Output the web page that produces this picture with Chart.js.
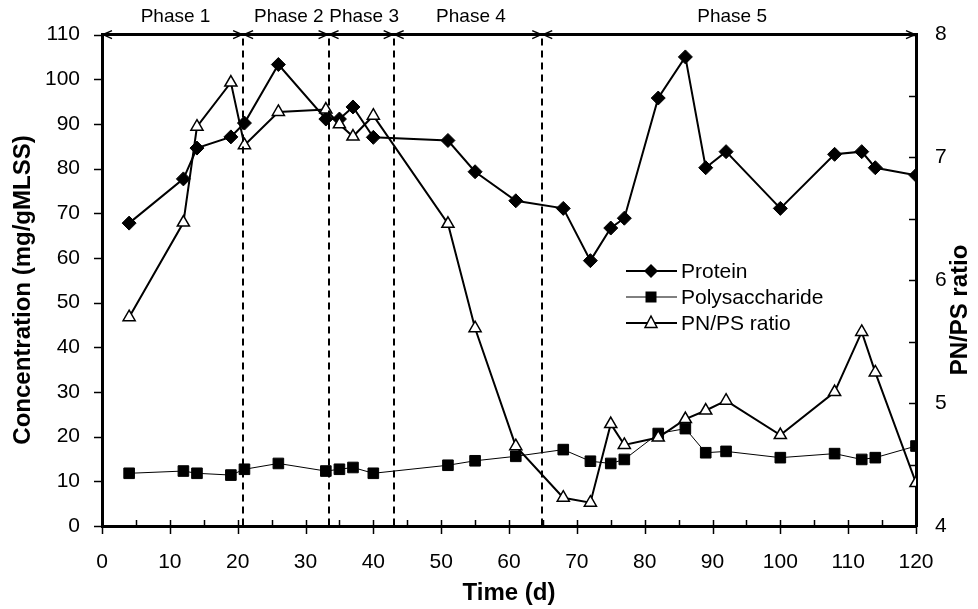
<!DOCTYPE html>
<html lang="en">
<head>
  <meta charset="UTF-8">
  <title>Protein, polysaccharide and PN/PS ratio</title>
  <script src="https://cdn.jsdelivr.net/npm/chart.js"></script>
  <style>
    body { margin: 0; background: #fff; }
    #wrap { width: 978px; height: 609px; }
  </style>
</head>
<body>
  <div id="wrap"><canvas id="chart"></canvas></div>
  <script>
    // sampling days
    const days = [4, 12, 14, 19, 21, 26, 33, 35, 37, 40, 51, 55, 61, 68, 72, 75, 77, 82, 86, 89, 92, 100, 108, 112, 114, 120];
    // mg/gMLSS
    const protein = [67.8, 77.7, 84.6, 87.1, 90.2, 103.3, 91.1, 91.1, 93.8, 87.0, 86.3, 79.3, 72.8, 71.1, 59.4, 66.7, 68.9, 95.8, 105.0, 80.2, 83.8, 71.1, 83.2, 83.8, 80.2, 78.5];
    const polysaccharide = [11.8, 12.3, 11.8, 11.4, 12.7, 14.0, 12.3, 12.7, 13.1, 11.8, 13.6, 14.6, 15.6, 17.1, 14.5, 14.0, 14.9, 20.7, 21.8, 16.4, 16.7, 15.3, 16.2, 14.9, 15.3, 17.9];
    // PN/PS ratio (right axis)
    const ratio = [5.70, 6.47, 7.25, 7.61, 7.10, 7.37, 7.39, 7.27, 7.17, 7.34, 6.46, 5.61, 4.65, 4.23, 4.19, 4.83, 4.66, 4.72, 4.87, 4.94, 5.02, 4.74, 5.09, 5.58, 5.25, 4.35];

    const phaseBounds = [0, 20.8, 33.4, 43, 64.9, 120];
    const phaseNames = ['Phase 1', 'Phase 2', 'Phase 3', 'Phase 4', 'Phase 5'];

    const pts = (ys) => days.map((d, i) => ({ x: d, y: ys[i] }));

    const FONT = '"Liberation Sans", Arial, sans-serif';

    // ticks, phases, legend and axis titles
    const decor = {
      id: 'decor',
      afterDraw(chart) {
        const ctx = chart.ctx;
        const a = chart.chartArea;
        const xs = chart.scales.x, yl = chart.scales.y, yr = chart.scales.y2;
        ctx.save();
        ctx.strokeStyle = '#000';
        ctx.fillStyle = '#000';

        // x ticks
        ctx.lineWidth = 1.5;
        for (let v = 0; v <= 120; v += 5) {
          const px = Math.round(xs.getPixelForValue(v)) + 0.5;
          ctx.beginPath();
          if (v % 10 === 0) { ctx.moveTo(px, a.bottom - 6); ctx.lineTo(px, a.bottom + 8); }
          else { ctx.moveTo(px, a.bottom - 6); ctx.lineTo(px, a.bottom); }
          ctx.stroke();
        }
        // left ticks
        for (let v = 0; v <= 110; v += 10) {
          const py = Math.round(yl.getPixelForValue(v)) + 0.5;
          ctx.beginPath(); ctx.moveTo(a.left - 8, py); ctx.lineTo(a.left, py); ctx.stroke();
        }
        // right ticks
        for (let v = 4; v <= 8; v += 0.5) {
          const py = Math.round(yr.getPixelForValue(v)) + 0.5;
          ctx.beginPath(); ctx.moveTo(a.right - 7, py); ctx.lineTo(a.right, py); ctx.stroke();
        }

        // phase arrow line
        ctx.lineWidth = 3;
        ctx.beginPath(); ctx.moveTo(a.left, a.top); ctx.lineTo(a.right, a.top); ctx.stroke();
        ctx.lineWidth = 1.5;
        const head = (x, dir) => {
          ctx.beginPath();
          ctx.moveTo(x - dir * 9, a.top - 4);
          ctx.lineTo(x, a.top);
          ctx.lineTo(x - dir * 9, a.top + 4);
          ctx.stroke();
        };
        for (let i = 0; i < phaseNames.length; i++) {
          const x0 = xs.getPixelForValue(phaseBounds[i]);
          const x1 = xs.getPixelForValue(phaseBounds[i + 1]);
          head(x0 + 1, -1);
          head(x1 - 1, 1);
          ctx.font = '19px ' + FONT;
          ctx.textAlign = 'center';
          ctx.textBaseline = 'middle';
          ctx.fillText(phaseNames[i], (x0 + x1) / 2 + 3, 17);
        }
        // dashed phase boundaries
        ctx.lineWidth = 2;
        ctx.setLineDash([7, 5]);
        for (let i = 1; i < phaseBounds.length - 1; i++) {
          const px = Math.round(xs.getPixelForValue(phaseBounds[i]));
          ctx.beginPath(); ctx.moveTo(px, a.top + 4); ctx.lineTo(px, a.bottom); ctx.stroke();
        }
        ctx.setLineDash([]);

        // legend
        const rows = [
          { label: 'Protein', lw: 2, mark: 'diamond' },
          { label: 'Polysaccharide', lw: 1, mark: 'square' },
          { label: 'PN/PS ratio', lw: 2, mark: 'triangle' }
        ];
        ctx.font = '21px ' + FONT;
        ctx.textAlign = 'left';
        ctx.textBaseline = 'middle';
        rows.forEach((r, i) => {
          const y = 271 + i * 26;
          const cx = 651;
          ctx.lineWidth = r.lw;
          ctx.beginPath(); ctx.moveTo(626, y); ctx.lineTo(677, y); ctx.stroke();
          ctx.beginPath();
          if (r.mark === 'diamond') {
            ctx.moveTo(cx - 7, y); ctx.lineTo(cx, y - 7); ctx.lineTo(cx + 7, y); ctx.lineTo(cx, y + 7);
            ctx.closePath(); ctx.fill();
          } else if (r.mark === 'square') {
            ctx.rect(cx - 5.5, y - 5.5, 11, 11); ctx.fill();
          } else {
            ctx.moveTo(cx, y - 7); ctx.lineTo(cx + 6, y + 4.5); ctx.lineTo(cx - 6, y + 4.5);
            ctx.closePath();
            ctx.fillStyle = '#fff'; ctx.fill();
            ctx.fillStyle = '#000'; ctx.lineWidth = 1.5; ctx.stroke();
          }
          ctx.fillText(r.label, 681, y + 1);
        });

        // axis titles
        ctx.font = 'bold 24px ' + FONT;
        ctx.textAlign = 'center';
        ctx.textBaseline = 'middle';
        ctx.fillText('Time (d)', (a.left + a.right) / 2, 593);
        ctx.save();
        ctx.translate(23, 290);
        ctx.rotate(-Math.PI / 2);
        ctx.fillText('Concentration (mg/gMLSS)', 0, 0);
        ctx.restore();
        ctx.save();
        ctx.translate(960, 310);
        ctx.rotate(-Math.PI / 2);
        ctx.fillText('PN/PS ratio', 0, 0);
        ctx.restore();

        ctx.restore();
      }
    };

    const tickFont = { family: FONT, size: 21 };
    const axisGrid = { display: true, drawOnChartArea: false, drawTicks: false };
    const axisBorder = { display: true, width: 3, color: '#000' };

    new Chart(document.getElementById('chart'), {
      type: 'line',
      data: {
        datasets: [
          {
            label: 'Protein',
            data: pts(protein),
            yAxisID: 'y',
            borderColor: '#000',
            borderWidth: 2,
            pointStyle: 'rectRot',
            pointRadius: 7,
            pointBackgroundColor: '#000',
            pointBorderColor: '#000',
            pointBorderWidth: 1,
            order: 3
          },
          {
            label: 'Polysaccharide',
            data: pts(polysaccharide),
            yAxisID: 'y',
            borderColor: '#000',
            borderWidth: 1,
            pointStyle: 'rect',
            pointRadius: 7.5,
            pointBackgroundColor: '#000',
            pointBorderColor: '#000',
            pointBorderWidth: 1,
            order: 2
          },
          {
            label: 'PN/PS ratio',
            data: pts(ratio),
            yAxisID: 'y2',
            borderColor: '#000',
            borderWidth: 2,
            pointStyle: 'triangle',
            pointRadius: 7,
            pointBackgroundColor: '#fff',
            pointBorderColor: '#000',
            pointBorderWidth: 1.5,
            order: 1
          }
        ]
      },
      options: {
        responsive: true,
        maintainAspectRatio: false,
        animation: false,
        layout: { padding: { top: 33, left: 0, right: 0, bottom: 0 } },
        plugins: {
          legend: { display: false },
          tooltip: { enabled: false }
        },
        elements: { line: { tension: 0 } },
        scales: {
          x: {
            type: 'linear',
            min: 0,
            max: 120,
            grid: axisGrid,
            border: axisBorder,
            ticks: { stepSize: 10, color: '#000', font: tickFont, padding: 24, maxRotation: 0 },
            afterFit: (s) => { s.height = 83; }
          },
          y: {
            position: 'left',
            min: 0,
            max: 110,
            grid: axisGrid,
            border: axisBorder,
            ticks: { stepSize: 10, color: '#000', font: tickFont, padding: 22 },
            afterFit: (s) => { s.width = 102; }
          },
          y2: {
            position: 'right',
            min: 4,
            max: 8,
            grid: axisGrid,
            border: axisBorder,
            ticks: { stepSize: 1, color: '#000', font: tickFont, padding: 19 },
            afterFit: (s) => { s.width = 62; }
          }
        }
      },
      plugins: [decor]
    });
  </script>
</body>
</html>
